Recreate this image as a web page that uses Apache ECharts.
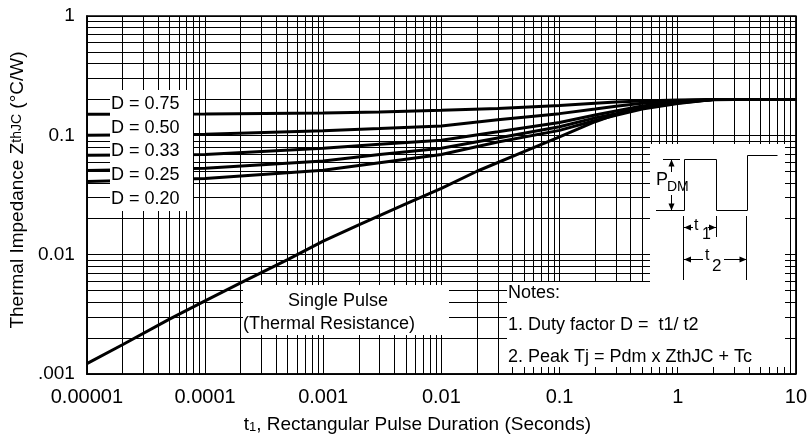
<!DOCTYPE html>
<html>
<head>
<meta charset="utf-8">
<script src="https://cdn.jsdelivr.net/npm/echarts@6/dist/echarts.min.js"></script>
<style>
  html, body { margin: 0; padding: 0; background: #fff; }
  #chart { width: 810px; height: 439px; }
</style>
</head>
<body>
<div id="chart"></div>
<script>
const FONT = '"Liberation Sans", Arial, sans-serif';

// Pulse durations (seconds) where the duty-factor curves were read
const dutyTimes = [1e-5, 1e-4, 1e-3, 3e-3, 1e-2, 3e-2, 0.1, 0.2, 0.3, 0.5, 1, 2, 10];
const duty075 = [0.150, 0.151, 0.154, 0.157, 0.162, 0.168, 0.178, 0.186, 0.190, 0.194, 0.198, 0.200, 0.200];
const duty050 = [0.100, 0.102, 0.109, 0.114, 0.120, 0.135, 0.152, 0.166, 0.175, 0.186, 0.195, 0.200, 0.200];
const duty033 = [0.068, 0.069, 0.078, 0.084, 0.091, 0.107, 0.128, 0.148, 0.160, 0.176, 0.190, 0.200, 0.200];
const duty025 = [0.0507, 0.053, 0.061, 0.069, 0.078, 0.095, 0.118, 0.140, 0.152, 0.170, 0.187, 0.200, 0.200];
const duty020 = [0.041, 0.0435, 0.051, 0.059, 0.069, 0.088, 0.110, 0.133, 0.147, 0.166, 0.185, 0.200, 0.200];

// Single pulse (thermal resistance) curve
const singleTimes = [1e-5, 2e-5, 5e-5, 1e-4, 2e-4, 5e-4, 1e-3, 2e-3, 5e-3, 1e-2, 2e-2, 5e-2, 0.1, 0.2, 0.3, 0.5, 1, 2, 3, 5, 10];
const singlePulse = [0.00122, 0.00176, 0.00288, 0.0041, 0.0058, 0.0091, 0.0130, 0.0178, 0.0266, 0.0359, 0.0500, 0.0730, 0.097, 0.130, 0.150, 0.172, 0.190, 0.199, 0.200, 0.200, 0.200];

// Tick labels, indexed by decade exponent
const xTickText = { '-5': '0.00001', '-4': '0.0001', '-3': '0.001', '-2': '0.01', '-1': '0.1', '0': '1', '1': '10' };
const yTickText = { '-3': '.001', '-2': '0.01', '-1': '0.1', '0': '1' };

const dutyLabels = ['D = 0.75', 'D = 0.50', 'D = 0.33', 'D = 0.25', 'D = 0.20'];
const noteLines = ['Notes:', '1. Duty factor D =  t1/ t2', '2. Peak Tj = Pdm x ZthJC + Tc'];

// log grid: 1..9 in every decade
function logGridValues(minExp, maxExp) {
  const vals = [];
  for (let e = minExp; e < maxExp; e++) {
    for (let m = 1; m <= 9; m++) vals.push(m * Math.pow(10, e));
  }
  vals.push(Math.pow(10, maxExp));
  return vals;
}

const pairs = (xs, ys) => xs.map((x, i) => [x, ys[i]]);
const expKey = v => String(Math.round(Math.log10(v)));

const gridLines = [
  ...logGridValues(-5, 1).map(v => ({ xAxis: v })),
  ...logGridValues(-3, 0).map(v => ({ yAxis: v })),
];

const curveStyle = { color: '#000', width: 3 };

function curve(name, xs, ys) {
  return {
    name,
    type: 'line',
    data: pairs(xs, ys),
    smooth: false,
    showSymbol: false,
    symbol: 'none',
    lineStyle: curveStyle,
    z: 3,
    silent: true,
  };
}

// --- annotation helpers (pixel space) ---
function text(x, y, str, size, align) {
  return {
    type: 'text', x, y, z: 102,
    style: {
      text: str, font: size + 'px ' + FONT, fill: '#000',
      align: align || 'left', verticalAlign: 'middle',
      textAlign: align || 'left', textVerticalAlign: 'middle',
    },
  };
}
function box(x, y, w, h) {
  return { type: 'rect', z: 100, shape: { x, y, width: w, height: h }, style: { fill: '#fff' } };
}
function seg(x1, y1, x2, y2) {
  return { type: 'line', z: 101, shape: { x1, y1, x2, y2 }, style: { stroke: '#000', lineWidth: 1 } };
}
function head(x, y, dir) {
  const L = 7, W = 3;
  const pts = {
    up: [[x, y], [x - W, y + L], [x + W, y + L]],
    down: [[x, y], [x - W, y - L], [x + W, y - L]],
    left: [[x, y], [x + L, y - W], [x + L, y + W]],
    right: [[x, y], [x - L, y - W], [x - L, y + W]],
  }[dir];
  return { type: 'polygon', z: 101, shape: { points: pts }, style: { fill: '#000' } };
}

const graphics = [
  box(110, 90, 83, 121),
  box(243, 285, 206, 50),
  box(507, 282, 278, 85),
  box(650, 144, 135, 138),
  ...dutyLabels.map((s, i) => text(111, 104 + i * 23.7, s, 18)),
  text(338, 301, 'Single Pulse', 18, 'center'),
  text(329, 324, '(Thermal Resistance)', 18, 'center'),
  ...noteLines.map((s, i) => text(508, 293.5 + i * 31.6, s, 18)),
  // pulse train inset
  {
    type: 'polyline', z: 101,
    shape: { points: [[656, 210.5], [684.5, 210.5], [684.5, 159.5], [716.5, 159.5], [716.5, 210.5], [747.5, 210.5], [747.5, 155.5], [777.5, 155.5]] },
    style: { stroke: '#000', lineWidth: 1, fill: null },
  },
  seg(663, 159.5, 680, 159.5),
  seg(671.5, 160, 671.5, 172),
  head(671.5, 159.5, 'up'),
  seg(671.5, 195, 671.5, 210),
  head(671.5, 210.5, 'down'),
  text(656, 180, 'P', 18),
  text(667, 187, 'DM', 14),
  seg(683.5, 216, 683.5, 280),
  seg(716.5, 216, 716.5, 237),
  seg(746.5, 216, 746.5, 280),
  head(684, 227.5, 'left'),
  seg(684, 227.5, 693, 227.5),
  text(694, 226, 't', 16),
  text(702, 235, '1', 16),
  seg(708, 227.5, 716, 227.5),
  head(716, 227.5, 'right'),
  head(684, 259.5, 'left'),
  seg(684, 259.5, 703, 259.5),
  text(705, 256, 't', 16),
  text(712, 266, '2', 17),
  seg(724, 259.5, 746, 259.5),
  head(746.5, 259.5, 'right'),
];

const chart = echarts.init(document.getElementById('chart'), null, { renderer: 'canvas' });

chart.setOption({
  animation: false,
  backgroundColor: '#fff',
  textStyle: { fontFamily: FONT, color: '#000' },
  grid: { left: 83, right: 13, top: 16, bottom: 64.5, show: true, borderColor: '#000', borderWidth: 1.5, backgroundColor: 'transparent' },
  xAxis: {
    type: 'log', logBase: 10, min: 1e-5, max: 10, interval: 1,
    axisLine: { show: true, lineStyle: { color: '#000', width: 1.5 } },
    axisTick: { show: false },
    splitLine: { show: false },
    axisLabel: { formatter: v => xTickText[expKey(v)] || '', fontSize: 20, color: '#000', margin: 13, fontFamily: FONT },
    name: 't{s|1}, Rectangular Pulse Duration (Seconds)',
    nameLocation: 'middle',
    nameGap: 41,
    nameTextStyle: {
      fontSize: 19, color: '#000', fontFamily: FONT, padding: [0, 48, 0, 0],
      rich: { s: { fontSize: 13, fontFamily: FONT, color: '#000', padding: [6, 0, 0, 0] } },
    },
  },
  yAxis: {
    type: 'log', logBase: 10, min: 0.001, max: 1, interval: 1,
    axisLine: { show: true, lineStyle: { color: '#000', width: 1.5 } },
    axisTick: { show: false },
    splitLine: { show: false },
    axisLabel: { formatter: v => yTickText[expKey(v)] || '', fontSize: 19, color: '#000', margin: 12, fontFamily: FONT },
    name: 'Thermal Impedance Z{s|thJC} (°C/W)',
    nameLocation: 'middle',
    nameGap: 54,
    nameTextStyle: {
      fontSize: 19, color: '#000', fontFamily: FONT, padding: [0, 0, 0, 10],
      rich: { s: { fontSize: 14, fontFamily: FONT, color: '#000' } },
    },
  },
  graphic: graphics,
  series: [
    {
      name: 'grid',
      type: 'line',
      data: [],
      silent: true,
      z: 1,
      markLine: {
        silent: true,
        symbol: 'none',
        animation: false,
        precision: 12,
        z: 1,
        label: { show: false },
        emphasis: { disabled: true },
        lineStyle: { type: 'solid', color: '#000', width: 1 },
        data: gridLines,
      },
    },
    curve('D = 0.75', dutyTimes, duty075),
    curve('D = 0.50', dutyTimes, duty050),
    curve('D = 0.33', dutyTimes, duty033),
    curve('D = 0.25', dutyTimes, duty025),
    curve('D = 0.20', dutyTimes, duty020),
    curve('Single Pulse', singleTimes, singlePulse),
  ],
});
</script>
</body>
</html>
